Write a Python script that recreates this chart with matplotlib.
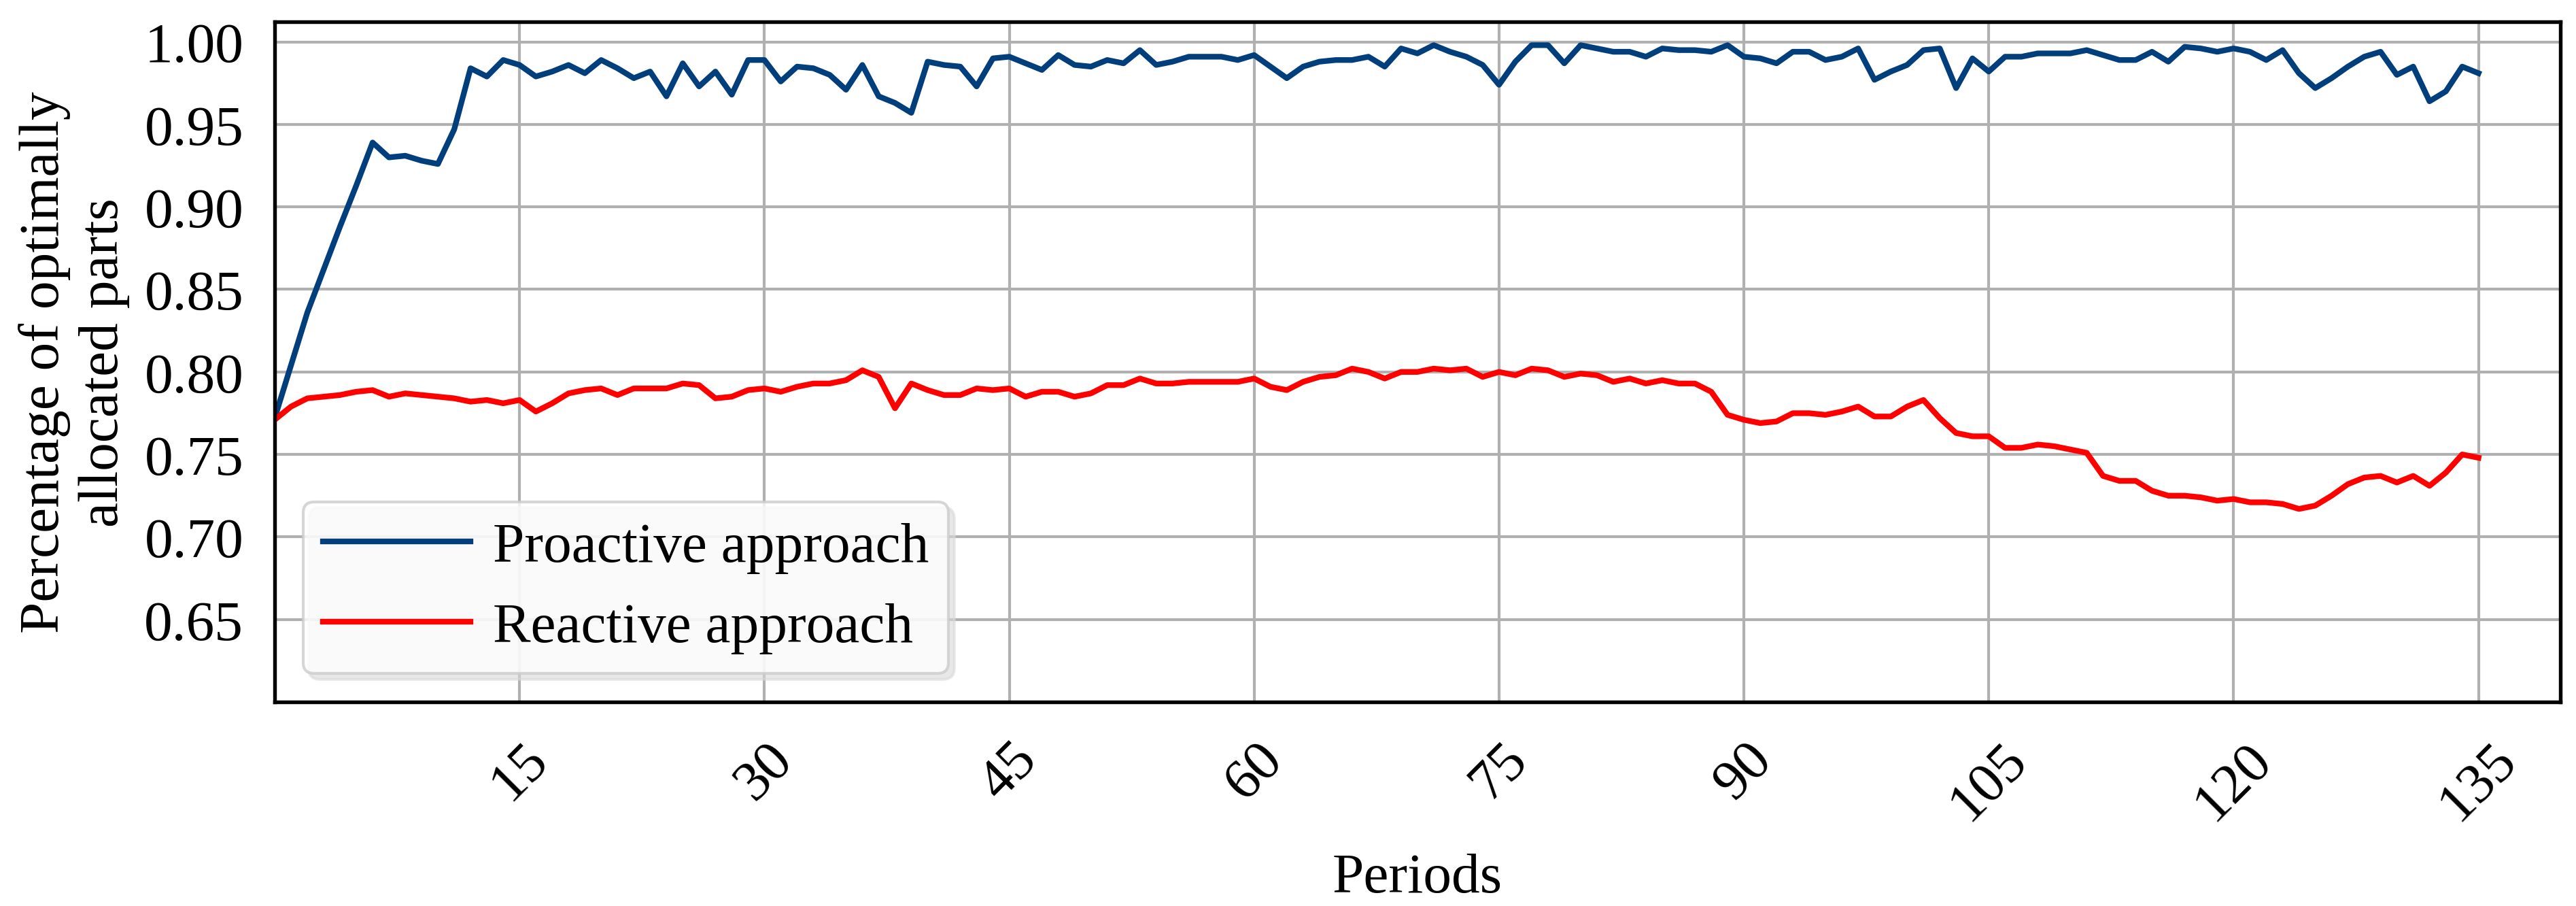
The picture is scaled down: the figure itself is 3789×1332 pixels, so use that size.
import numpy as np
import matplotlib
matplotlib.use('Agg')
import matplotlib.pyplot as plt

plt.rcParams['font.family'] = ['Liberation Serif', 'DejaVu Serif']

periods = np.arange(0, 136)

proactive = [
    0.772, 0.804, 0.836, 0.862, 0.888, 0.913, 0.939, 0.930, 0.931, 0.928,
    0.926, 0.947, 0.984, 0.979, 0.989, 0.986, 0.979, 0.982, 0.986, 0.981,
    0.989, 0.984, 0.978, 0.982, 0.967, 0.987, 0.973, 0.982, 0.968, 0.989,
    0.989, 0.976, 0.985, 0.984, 0.980, 0.971, 0.986, 0.967, 0.963, 0.957,
    0.988, 0.986, 0.985, 0.973, 0.990, 0.991, 0.987, 0.983, 0.992, 0.986,
    0.985, 0.989, 0.987, 0.995, 0.986, 0.988, 0.991, 0.991, 0.991, 0.989,
    0.992, 0.985, 0.978, 0.985, 0.988, 0.989, 0.989, 0.991, 0.985, 0.996,
    0.993, 0.998, 0.994, 0.991, 0.986, 0.974, 0.988, 0.998, 0.998, 0.987,
    0.998, 0.996, 0.994, 0.994, 0.991, 0.996, 0.995, 0.995, 0.994, 0.998,
    0.991, 0.990, 0.987, 0.994, 0.994, 0.989, 0.991, 0.996, 0.977, 0.982,
    0.986, 0.995, 0.996, 0.972, 0.990, 0.982, 0.991, 0.991, 0.993, 0.993,
    0.993, 0.995, 0.992, 0.989, 0.989, 0.994, 0.988, 0.997, 0.996, 0.994,
    0.996, 0.994, 0.989, 0.995, 0.981, 0.972, 0.978, 0.985, 0.991, 0.994,
    0.980, 0.985, 0.964, 0.970, 0.985, 0.981,
]

reactive = [
    0.771, 0.779, 0.784, 0.785, 0.786, 0.788, 0.789, 0.785, 0.787, 0.786,
    0.785, 0.784, 0.782, 0.783, 0.781, 0.783, 0.776, 0.781, 0.787, 0.789,
    0.790, 0.786, 0.790, 0.790, 0.790, 0.793, 0.792, 0.784, 0.785, 0.789,
    0.790, 0.788, 0.791, 0.793, 0.793, 0.795, 0.801, 0.797, 0.778, 0.793,
    0.789, 0.786, 0.786, 0.790, 0.789, 0.790, 0.785, 0.788, 0.788, 0.785,
    0.787, 0.792, 0.792, 0.796, 0.793, 0.793, 0.794, 0.794, 0.794, 0.794,
    0.796, 0.791, 0.789, 0.794, 0.797, 0.798, 0.802, 0.800, 0.796, 0.800,
    0.800, 0.802, 0.801, 0.802, 0.797, 0.800, 0.798, 0.802, 0.801, 0.797,
    0.799, 0.798, 0.794, 0.796, 0.793, 0.795, 0.793, 0.793, 0.788, 0.774,
    0.771, 0.769, 0.770, 0.775, 0.775, 0.774, 0.776, 0.779, 0.773, 0.773,
    0.779, 0.783, 0.772, 0.763, 0.761, 0.761, 0.754, 0.754, 0.756, 0.755,
    0.753, 0.751, 0.737, 0.734, 0.734, 0.728, 0.725, 0.725, 0.724, 0.722,
    0.723, 0.721, 0.721, 0.720, 0.717, 0.719, 0.725, 0.732, 0.736, 0.737,
    0.733, 0.737, 0.731, 0.739, 0.750, 0.748,
]

x_ticks = list(range(15, 136, 15))
y_ticks = [0.65, 0.70, 0.75, 0.80, 0.85, 0.90, 0.95, 1.00]

fig = plt.figure(figsize=(12.633, 4.443), dpi=300)
ax = fig.add_axes([0.1066, 0.225, 0.887, 0.750])

ax.plot(periods, proactive, color='#013f7c', linewidth=2.0, label='Proactive approach')
ax.plot(periods, reactive, color='#ff0000', linewidth=2.0, label='Reactive approach')

ax.set_xlim(0, 140)
ax.set_ylim(0.60, 1.012)
ax.set_xticks(x_ticks)
ax.set_yticks(y_ticks)
ax.set_yticklabels([f'{v:.2f}' for v in y_ticks])
ax.tick_params(axis='both', labelsize=20, length=0, pad=11)
ax.tick_params(axis='x', labelrotation=45)

ax.grid(True, color='#b0b0b0', linewidth=1.0)
ax.set_axisbelow(True)
for spine in ax.spines.values():
    spine.set_linewidth(1.3)
    spine.set_color('black')

ax.set_xlabel('Periods', fontsize=20, labelpad=8)
ax.set_ylabel('Percentage of optimally\nallocated parts', fontsize=20, labelpad=5)

leg = ax.legend(loc='lower left', fontsize=20, handlelength=2.6, handletextpad=0.4,
                fancybox=True, framealpha=0.8, borderpad=0.35, labelspacing=0.5,
                shadow={'color': '0.85', 'alpha': 0.6})
leg.get_frame().set_edgecolor('#cccccc')

fig.savefig('out.png', dpi=300)
plt.close(fig)
